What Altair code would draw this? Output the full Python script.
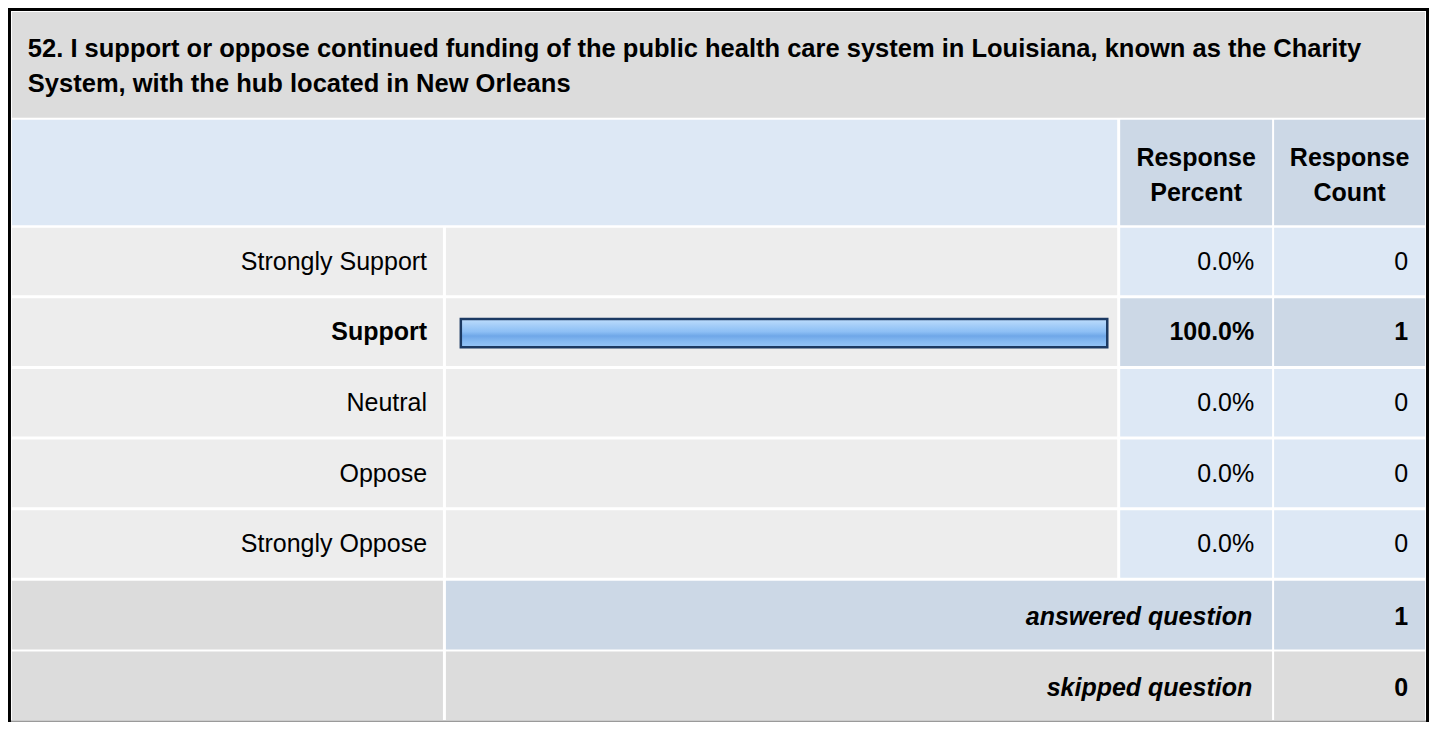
import altair as alt
import pandas as pd

# ---------------- data ----------------
title_lines = [
    "52. I support or oppose continued funding of the public health care system in Louisiana, known as the Charity",
    "System, with the hub located in New Orleans",
]
header_percent = ["Response", "Percent"]
header_count = ["Response", "Count"]
categories = ["Strongly Support", "Support", "Neutral", "Oppose", "Strongly Oppose"]
percents = [0.0, 100.0, 0.0, 0.0, 0.0]
counts = [0, 1, 0, 0, 0]
summary_labels = ["answered question", "skipped question"]
summary_values = [1, 0]

# ---------------- layout (reference pixel space) ----------------
W, H = 1421, 714
xs = alt.Scale(domain=[4, 1435], range=[0, W], nice=False, zero=False)
ys = alt.Scale(domain=[1, 729], range=[0, H], nice=False, zero=False)


def px(v):
    return (v - 4) * W / 1431


COL_LABEL = (8, 442)
COL_BAR = (445, 1121)
COL_PCT = (1124, 1277)
COL_CNT = (1279, 1431)
ROW0, ROW_STEP, ROW_H = 225, 72, 69
BAR_X0, BAR_X1 = 460, 1111

C_TITLE = "#DCDCDC"
C_LABEL = "#EDEDED"
C_LIGHT = "#DDE8F5"
C_DARK = "#CCD8E6"
FONT = "Liberation Sans"
FS = 25
FS_TITLE = 25.5

cells = []


def cell(x, x2, y, y2, fill):
    cells.append({"x": x, "x2": x2, "y": y, "y2": y2, "fill": fill})


cell(4, 1435, 1, 729, "#000000")
cell(7, 1432, 4, 729, "#FFFFFF")
cell(7, 1432, 727.5, 729, "#9A9A9A")
cell(8, 1431, 5, 113, C_TITLE)
cell(8, 1121, 115, 222.5, C_LIGHT)
cell(COL_PCT[0], COL_PCT[1], 115, 222.5, C_DARK)
cell(COL_CNT[0], COL_CNT[1], 115, 222.5, C_DARK)

n = len(categories)
for i in range(n):
    t = ROW0 + ROW_STEP * i
    b = t + ROW_H
    hi = counts[i] > 0
    cell(COL_LABEL[0], COL_LABEL[1], t, b, C_LABEL)
    cell(COL_BAR[0], COL_BAR[1], t, b, C_LABEL)
    cell(COL_PCT[0], COL_PCT[1], t, b, C_DARK if hi else C_LIGHT)
    cell(COL_CNT[0], COL_CNT[1], t, b, C_DARK if hi else C_LIGHT)

sum_tops = [ROW0 + ROW_STEP * n, ROW0 + ROW_STEP * (n + 1)]
sum_fills = [C_DARK, C_TITLE]
for k in range(2):
    t = sum_tops[k]
    b = min(t + ROW_H + 1, 727)
    cell(COL_LABEL[0], COL_LABEL[1], t, b, C_TITLE)
    cell(COL_BAR[0], COL_PCT[1], t, b, sum_fills[k])
    cell(COL_CNT[0], COL_CNT[1], t, b, sum_fills[k])

cells_df = pd.DataFrame(cells)
cells_df["order"] = range(len(cells_df))

rects = alt.Chart(cells_df).mark_rect().encode(
    x=alt.X("x:Q", scale=xs, axis=None),
    x2="x2:Q",
    y=alt.Y("y:Q", scale=ys, axis=None),
    y2="y2:Q",
    color=alt.Color("fill:N", scale=None),
    order="order:Q",
)

# ---------------- bar ----------------
bar_df = pd.DataFrame({
    "category": categories,
    "start": [0.0] * n,
    "pct": percents,
    "top": [ROW0 + ROW_STEP * i + 21 for i in range(n)],
    "bottom": [ROW0 + ROW_STEP * i + 50 for i in range(n)],
})
bar_df = bar_df[bar_df["pct"] > 0]

grad = alt.LinearGradient(
    gradient="linear",
    stops=[
        alt.GradientStop(color="#BEDDFC", offset=0.0),
        alt.GradientStop(color="#A2CCF8", offset=0.25),
        alt.GradientStop(color="#8DBFF5", offset=0.45),
        alt.GradientStop(color="#6FA7E8", offset=0.6),
        alt.GradientStop(color="#86BAF2", offset=0.8),
        alt.GradientStop(color="#96C6F7", offset=1.0),
    ],
    x1=0, x2=0, y1=0, y2=1,
)

bars = alt.Chart(bar_df).mark_rect(
    fill=grad, stroke="#1C3A63", strokeWidth=2.5
).encode(
    x=alt.X("start:Q", scale=alt.Scale(domain=[0, 100], range=[px(BAR_X0), px(BAR_X1)], nice=False, zero=False), axis=None),
    x2="pct:Q",
    y=alt.Y("top:Q", scale=ys, axis=None),
    y2="bottom:Q",
)

# ---------------- texts ----------------
texts = []


def txt(s, x, y, align, weight="normal", style="normal", size=FS):
    texts.append({"t": s, "x": x, "y": y, "align": align, "weight": weight, "style": style, "size": size})


txt(title_lines[0], 24, 51, "left", "bold", size=FS_TITLE)
txt(title_lines[1], 24, 87, "left", "bold", size=FS_TITLE)
for j, s in enumerate(header_percent):
    txt(s, 1200.5, 162 + 36 * j, "center", "bold")
for j, s in enumerate(header_count):
    txt(s, 1355, 162 + 36 * j, "center", "bold")

for i in range(n):
    base = ROW0 + ROW_STEP * i + 43
    w = "bold" if counts[i] > 0 else "normal"
    txt(categories[i], 426, base, "right", w)
    txt(f"{percents[i]:.1f}%", 1259, base, "right", w)
    txt(str(counts[i]), 1414, base, "right", w)

for k in range(2):
    base = sum_tops[k] + 45
    txt(summary_labels[k], 1257, base, "right", "bold", "italic")
    txt(str(summary_values[k]), 1414, base, "right", "bold")

texts_df = pd.DataFrame(texts)

text_layers = []
for (align, weight, style, size), sub in texts_df.groupby(["align", "weight", "style", "size"]):
    text_layers.append(
        alt.Chart(sub).mark_text(
            align=align, baseline="alphabetic", font=FONT, fontSize=float(size),
            fontWeight=weight, fontStyle=style, color="#000000",
        ).encode(
            x=alt.X("x:Q", scale=xs, axis=None),
            y=alt.Y("y:Q", scale=ys, axis=None),
            text="t:N",
        )
    )

chart = alt.layer(rects, bars, *text_layers).resolve_scale(
    x="independent", y="independent"
).properties(
    width=W, height=H, padding=0, background="#FFFFFF"
).configure_view(strokeWidth=0)

chart.save("out.html", embed_options={"renderer": "svg", "actions": False})
